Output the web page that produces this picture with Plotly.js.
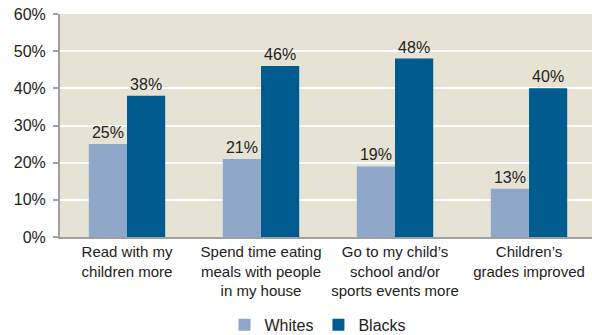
<!DOCTYPE html>
<html>
<head>
<meta charset="utf-8">
<script src="https://cdn.plot.ly/plotly-3.0.1.min.js"></script>
<style>html,body{margin:0;padding:0;background:#fff;}#chart{width:592px;height:335px;}</style>
</head>
<body>
<div id="chart"></div>
<script>
const categories = [
  "Read with my<br>children more",
  "Spend time eating<br>meals with people<br>in my house",
  "Go to my child’s<br>school and/or<br>sports events more",
  "Children’s<br>grades improved"
];
const whites = [25, 21, 19, 13];
const blacks = [38, 46, 48, 40];
const yTicks = [0, 10, 20, 30, 40, 50, 60];
const yTickLabels = ["0%", "10%", "20%", "30%", "40%", "50%", "60%"];

const font = "Liberation Sans, Arial, sans-serif";
const traces = [
  {type: "bar", name: "Whites", x: categories, y: whites,
   marker: {color: "#8FA8CA"}, text: whites.map(v => v + "%"),
   textposition: "outside", cliponaxis: false,
   textfont: {family: font, size: 16, color: "#222"}},
  {type: "bar", name: "Blacks", x: categories, y: blacks,
   marker: {color: "#005B8F"}, text: blacks.map(v => v + "%"),
   textposition: "outside", cliponaxis: false,
   textfont: {family: font, size: 16, color: "#222"}}
];
const layout = {
  width: 592, height: 335,
  margin: {l: 60, r: 0, t: 14, b: 98},
  paper_bgcolor: "#ffffff",
  plot_bgcolor: "#E6E2D4",
  barmode: "group", bargap: 0.43, bargroupgap: 0,
  font: {family: font, size: 14, color: "#222"},
  xaxis: {type: "category", range: [-0.5, 3.47], showline: true, linecolor: "#A0A0A0",
          linewidth: 2, ticks: "", tickfont: {family: font, size: 15, color: "#222"},
          showgrid: false, fixedrange: true},
  yaxis: {range: [0, 60], tickvals: yTicks, ticktext: yTickLabels, showline: true,
          linecolor: "#A0A0A0", linewidth: 2, ticks: "outside", ticklen: 5, tickcolor: "#A0A0A0",
          tickwidth: 2, gridcolor: "#ffffff", gridwidth: 2, zeroline: false,
          ticklabelstandoff: 4,
          tickfont: {family: font, size: 16, color: "#222"}},
  showlegend: true,
  legend: {orientation: "h", x: 0.485, xanchor: "center", yref: "container", y: 0.03, yanchor: "middle",
           font: {family: font, size: 16, color: "#222"}, traceorder: "normal", itemwidth: 30}
};
Plotly.newPlot("chart", traces, layout, {displayModeBar: false, staticPlot: true});
</script>
</body>
</html>
